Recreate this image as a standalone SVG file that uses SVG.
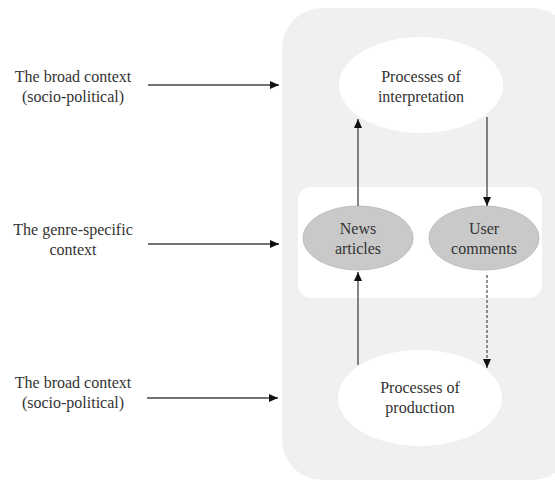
<svg xmlns="http://www.w3.org/2000/svg" width="555" height="481" viewBox="0 0 555 481">
<style>
text{font-family:"Liberation Serif","Times New Roman",serif;font-size:16px;fill:#333;text-anchor:middle}
.ln{stroke:#444;stroke-width:1.3;fill:none}
.dash{stroke:#555;stroke-width:1.3;stroke-dasharray:3 2;fill:none}
.white{fill:#fff}
.grey{fill:#c9c9c9;stroke:#bdbdbd;stroke-width:1}
</style>
<defs>
<marker id="ah" markerWidth="10" markerHeight="10" refX="9" refY="5" orient="auto" markerUnits="userSpaceOnUse">
<path d="M0,1 L9,5 L0,9 Z" fill="#111"/>
</marker>
</defs>
<rect width="555" height="481" fill="#fff"/>
<g id="background">
<rect x="282" y="8" width="290" height="472" rx="40" fill="#f0f0f0"/>
<rect x="298" y="187" width="244" height="111" rx="13" fill="#fff"/>
</g>
<g id="ctx1"><text x="73" y="82">The broad context</text><text x="73" y="102">(socio-political)</text></g>
<g id="ctx2"><text x="73" y="235">The genre-specific</text><text x="73" y="255">context</text></g>
<g id="ctx3"><text x="73" y="388">The broad context</text><text x="73" y="408">(socio-political)</text></g>
<g id="interp"><ellipse class="white" cx="421" cy="85" rx="82" ry="48"/><text x="421" y="82">Processes of</text><text x="421" y="102">interpretation</text></g>
<g id="prod"><ellipse class="white" cx="420" cy="398" rx="82" ry="48"/><text x="420" y="393">Processes of</text><text x="420" y="413">production</text></g>
<g id="news"><ellipse class="grey" cx="358" cy="238" rx="55" ry="32"/><text x="358" y="234">News</text><text x="358" y="254">articles</text></g>
<g id="comments"><ellipse class="grey" cx="484" cy="238" rx="55" ry="32"/><text x="484" y="234">User</text><text x="484" y="254">comments</text></g>
<g id="connectors">
<line class="ln" x1="148" y1="85" x2="279" y2="85" marker-end="url(#ah)"/>
<line class="ln" x1="148" y1="244" x2="279" y2="244" marker-end="url(#ah)"/>
<line class="ln" x1="147" y1="398" x2="278" y2="398" marker-end="url(#ah)"/>
<line class="ln" x1="358" y1="206" x2="358" y2="119" marker-end="url(#ah)"/>
<line class="ln" x1="487" y1="117" x2="487" y2="206" marker-end="url(#ah)"/>
<line class="ln" x1="358" y1="365" x2="358" y2="272" marker-end="url(#ah)"/>
<line class="dash" x1="487" y1="275" x2="487" y2="368" marker-end="url(#ah)"/>
</g>
</svg>
